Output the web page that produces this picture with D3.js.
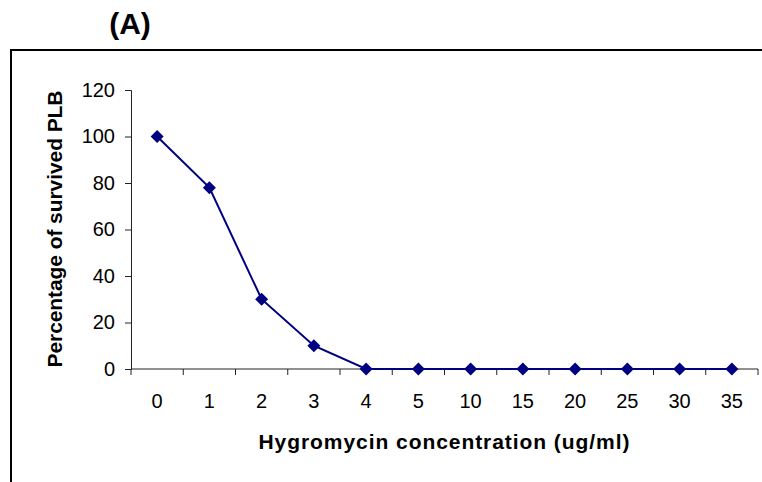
<!DOCTYPE html>
<html>
<head>
<meta charset="utf-8">
<script src="https://cdn.jsdelivr.net/npm/d3@7"></script>
<style>
  body { margin: 0; background: #fff; }
  text { font-family: Arial, "Liberation Sans", sans-serif; }
</style>
</head>
<body>
<div id="viz"></div>
<script>
const concentrations = ["0", "1", "2", "3", "4", "5", "10", "15", "20", "25", "30", "35"];
const survived = [100, 78, 30, 10, 0, 0, 0, 0, 0, 0, 0, 0];
const yTicks = [0, 20, 40, 60, 80, 100, 120];

const width = 762;
const height = 482;
const navy = "#000080";

const svg = d3.select("#viz").append("svg")
    .attr("width", width)
    .attr("height", height);

// frame (only top and left edges visible in the crop)
svg.append("path")
    .attr("d", `M11,${height} L11,50 L${width},50`)
    .attr("fill", "none")
    .attr("stroke", "black")
    .attr("stroke-width", 2);

svg.append("text")
    .attr("x", 130)
    .attr("y", 34)
    .attr("text-anchor", "middle")
    .style("font-size", "30px")
    .style("font-weight", "bold")
    .text("(A)");

const xScale = d3.scaleBand()
    .domain(concentrations)
    .range([131, 758]);

const yScale = d3.scaleLinear()
    .domain([0, 120])
    .range([369, 90]);

// y axis
const yAxis = svg.append("g")
    .attr("transform", "translate(131,0)")
    .call(d3.axisLeft(yScale).tickValues(yTicks).tickSize(6).tickPadding(10));
yAxis.select(".domain").attr("stroke", "#222");
yAxis.selectAll(".tick line").attr("stroke", "#222");
yAxis.selectAll(".tick text")
    .style("font-size", "20px")
    .attr("fill", "black");

// x axis, ticks between categories
const xAxis = svg.append("g")
    .attr("transform", "translate(0,369)");
xAxis.append("line")
    .attr("x1", xScale.range()[0])
    .attr("x2", xScale.range()[1])
    .attr("stroke", "#222");
xAxis.selectAll(".xtick")
    .data(concentrations.concat([null]))
    .join("line")
        .attr("class", "xtick")
        .attr("x1", d => d === null ? xScale.range()[1] : xScale(d))
        .attr("x2", d => d === null ? xScale.range()[1] : xScale(d))
        .attr("y1", 0)
        .attr("y2", 6)
        .attr("stroke", "#222");
xAxis.selectAll(".xlabel")
    .data(concentrations)
    .join("text")
        .attr("class", "xlabel")
        .attr("x", d => xScale(d) + xScale.bandwidth() / 2)
        .attr("y", 39)
        .attr("text-anchor", "middle")
        .style("font-size", "20px")
        .text(d => d);

svg.append("text")
    .attr("x", 444)
    .attr("y", 449)
    .attr("text-anchor", "middle")
    .attr("textLength", 371)
    .attr("lengthAdjust", "spacing")
    .style("font-size", "21px")
    .style("font-weight", "bold")
    .text("Hygromycin concentration (ug/ml)");

svg.append("text")
    .attr("transform", "translate(62,229) rotate(-90)")
    .attr("text-anchor", "middle")
    .attr("textLength", 277)
    .attr("lengthAdjust", "spacing")
    .style("font-size", "21px")
    .style("font-weight", "bold")
    .text("Percentage of survived PLB");

const points = concentrations.map((c, i) => ({ c: c, v: survived[i] }));

const line = d3.line()
    .x(d => xScale(d.c) + xScale.bandwidth() / 2)
    .y(d => yScale(d.v));

svg.append("path")
    .datum(points)
    .attr("d", line)
    .attr("fill", "none")
    .attr("stroke", navy)
    .attr("stroke-width", 2);

svg.selectAll(".marker")
    .data(points)
    .join("path")
        .attr("class", "marker")
        .attr("transform", d => `translate(${xScale(d.c) + xScale.bandwidth() / 2},${yScale(d.v)})`)
        .attr("d", "M0,-6.5 L6.5,0 L0,6.5 L-6.5,0 Z")
        .attr("fill", navy);
</script>
</body>
</html>
